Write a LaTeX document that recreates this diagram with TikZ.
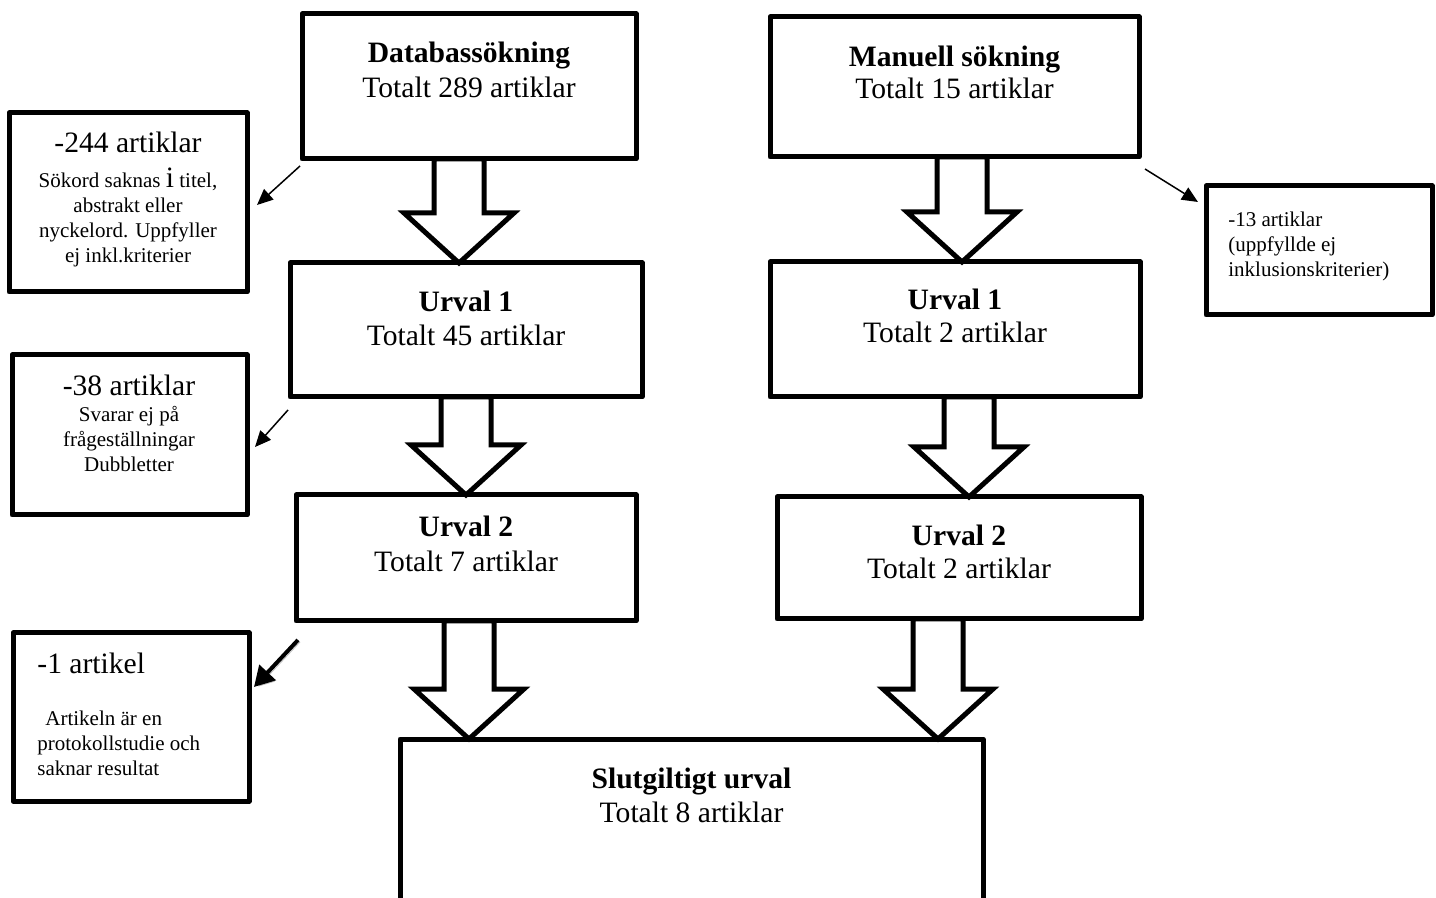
\documentclass[tikz,border=0pt]{standalone}
\usepackage{fontspec}
\setmainfont{Liberation Serif}
\usetikzlibrary{arrows,arrows.meta,positioning,fit,calc}

\tikzset{
  box/.style={draw, line width=2.5pt, line join=round, inner sep=0pt, outer sep=0pt},
  title/.style={font=\fontsize{14.8}{17}\selectfont\bfseries, inner sep=0pt, anchor=base},
  count/.style={font=\fontsize{14.8}{17}\selectfont, inner sep=0pt, anchor=base},
  note/.style={font=\fontsize{10.5}{12.5}\selectfont, inner sep=0pt, align=center, anchor=base},
  fatarrow/.style={draw, fill=white, line width=2.5pt, line join=miter,
    to path={let \p1=(\tikztostart), \p2=(\tikztotarget) in
      (\x1-12.5pt,\y1) -- (\x1+12.5pt,\y1) -- (\x1+12.5pt,\y2+25pt) -- (\x1+27.5pt,\y2+25pt)
      -- (\x1,\y2) -- (\x1-27.5pt,\y2+25pt) -- (\x1-12.5pt,\y2+25pt) -- cycle}},
  cutarrow/.style={line width=0.75pt, -{Triangle[length=8pt,width=7pt]}},
}

\begin{document}
\begin{tikzpicture}[x=0.5pt,y=-0.5pt]
  \useasboundingbox (0,0) rectangle (1436,898);

  % search boxes
  \node[box, fit={(302,14) (636,159)}] (db) {};
  \node[title] (dbtitle) at (469,63) {Databassökning};
  \node[count] (dbcount) at (469,98) {Totalt 289 artiklar};

  \node[box, fit={(770,17) (1139,157)}] (man) {};
  \node[title] (mantitle) at (954.5,67) {Manuell sökning};
  \node[count] (mancount) at (954.5,99) {Totalt 15 artiklar};

  % selection, database column
  \node[box, fit={(290,263) (642,397)}] (ura1) {};
  \node[title] (ura1title) at (466,312) {Urval 1};
  \node[count] (ura1count) at (466,346) {Totalt 45 artiklar};

  \node[box, fit={(296,495) (636,621)}] (ura2) {};
  \node[title] (ura2title) at (466,537) {Urval 2};
  \node[count] (ura2count) at (466,572) {Totalt 7 artiklar};

  % selection, manual column
  \node[box, fit={(770,262) (1140,397)}] (urm1) {};
  \node[title] (urm1title) at (955,310) {Urval 1};
  \node[count] (urm1count) at (955,343) {Totalt 2 artiklar};

  \node[box, fit={(777,497) (1141,619)}] (urm2) {};
  \node[title] (urm2title) at (959,546) {Urval 2};
  \node[count] (urm2count) at (959,579) {Totalt 2 artiklar};

  % final selection (runs off the bottom)
  \node[box, fit={(400,739) (983,900)}] (slut) {};
  \node[title] (sluttitle) at (691.5,788) {Slutgiltigt urval};
  \node[count] (slutcount) at (691.5,822) {Totalt 8 artiklar};

  % excluded articles
  \node[box, fit={(9,113) (247,292)}] (ex244) {};
  \node[count] (ex244head) at (128,153) {-244 artiklar};
  \node[note] (ex244text) at (128,263) {Sökord saknas {\fontsize{14.8}{12.5}\selectfont i} titel,\\abstrakt eller\\nyckelord. Uppfyller\\ej inkl.kriterier};

  \node[box, fit={(12,355) (247,515)}] (ex38) {};
  \node[count] (ex38head) at (129,396) {-38 artiklar};
  \node[note] (ex38text) at (129,472) {Svarar ej på\\frågeställningar\\Dubbletter};

  \node[box, fit={(13,633) (249,801)}] (ex1) {};
  \node[count, anchor=base west] (ex1head) at (37,673) {-1 artikel};
  \node[note, align=left, anchor=base west] (ex1text) at (37,775) {\hspace*{4pt}Artikeln är en\\protokollstudie och\\saknar resultat};

  \node[box, fit={(1206,186) (1432,315)}] (ex13) {};
  \node[note, align=left, anchor=base west] (ex13text) at (1228,277) {-13 artiklar\\(uppfyllde ej\\inklusionskriterier)};

  % block arrows
  \draw[fatarrow] ([xshift=-5pt]db.south) to ([xshift=-5pt]db.south |- ura1.north);
  \draw[fatarrow] (ura1.south) to (ura1.south |- ura2.north);
  \draw[fatarrow] ([xshift=1.5pt]ura2.south) to ([xshift=1.5pt]ura2.south |- slut.north);
  \draw[fatarrow] ([xshift=3.75pt]man.south) to ([xshift=3.75pt]man.south |- urm1.north);
  \draw[fatarrow] ([xshift=7pt]urm1.south) to ([xshift=7pt]urm1.south |- urm2.north);
  \draw[fatarrow] ([xshift=-10.5pt]urm2.south) to ([xshift=-10.5pt]urm2.south |- slut.north);

  % thin arrows to the excluded boxes
  \draw[cutarrow] ([shift={(-2,7)}]db.south west) -- ([shift={(10,2.5)}]ex244.east);
  \draw[cutarrow] ([shift={(-2,13)}]ura1.south west) -- ([shift={(8,12)}]ex38.east);
  \draw[cutarrow, line width=2pt, -{Triangle[length=10pt,width=11pt]},
        preaction={draw=black!25, transform canvas={shift={(1pt,-1pt)}}}]
        ([shift={(2,19)}]ura2.south west) -- ([shift={(5,-30)}]ex1.east);
  \draw[cutarrow] ([shift={(6,12)}]man.south east) -- ([shift={(-8,16)}]ex13.north west);
\end{tikzpicture}
\end{document}
